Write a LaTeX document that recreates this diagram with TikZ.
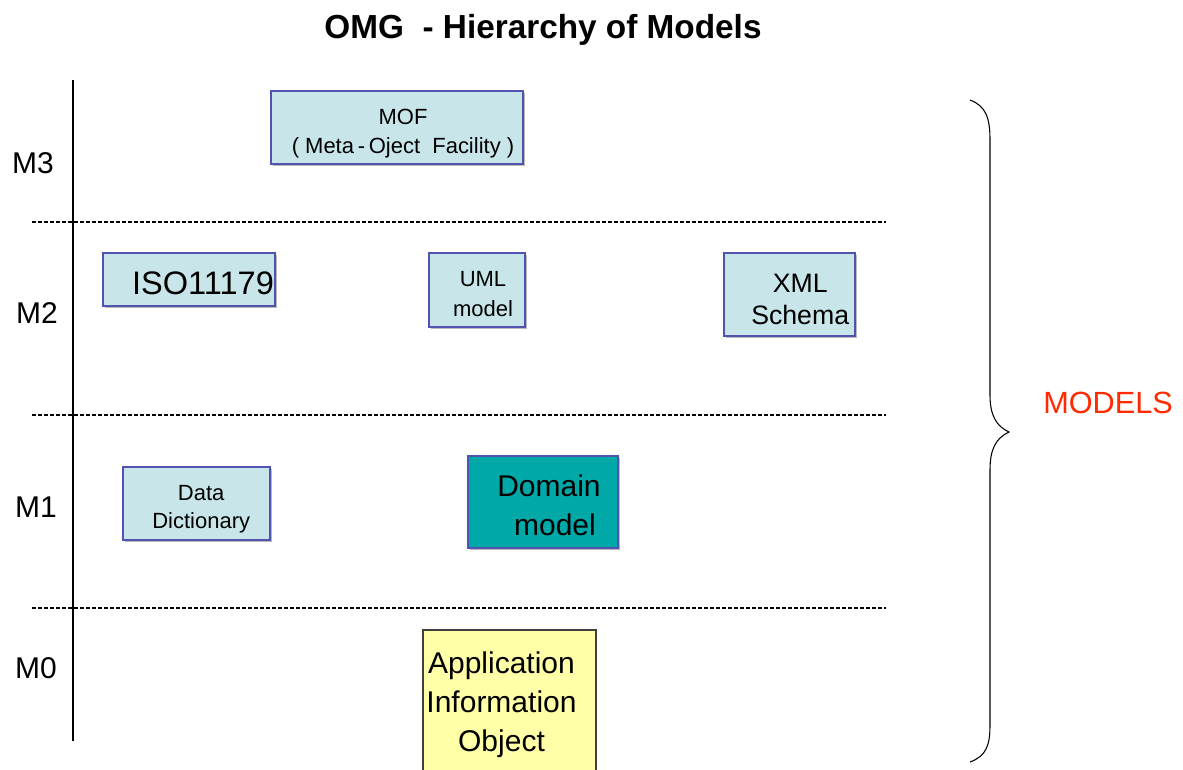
\documentclass[tikz,border=0pt]{standalone}
\usepackage{fontspec}
\setmainfont{Liberation Sans}
\usetikzlibrary{shadows}

\definecolor{boxblue}{HTML}{C8E6E9}
\definecolor{boxedge}{HTML}{5252B0}
\definecolor{domainteal}{HTML}{00A8A8}
\definecolor{appyellow}{HTML}{FFFFA8}
\definecolor{modelsred}{HTML}{FF2A00}

\tikzset{
  modelbox/.style={draw=boxedge, fill=boxblue, line width=1.2pt, inner sep=0pt,
    drop shadow={shadow xshift=1.5pt, shadow yshift=-1.5pt, fill=gray!55, opacity=1}},
  boxtext/.style={inner sep=0pt, align=center},
  levelline/.style={line width=1.8pt, dash pattern=on 3pt off 1.5pt},
  levellabel/.style={font=\fontsize{22.5pt}{26pt}\selectfont}
}

\begin{document}
\begin{tikzpicture}[x=0.75pt, y=-0.75pt]
 \def\linestart{32}
 \def\lineend{886}

    % page
    \clip (0,0) rectangle (1183,769);
    \fill[white] (0,0) rectangle (1183,769);

    % Title
    \node (title) at (543,30) {\fontsize{25pt}{30pt}\selectfont\bfseries OMG\ \ - Hierarchy of Models};

    % Levels
    \draw[line width=0.8pt] (73,80) coordinate (axtop) -- (73,741) coordinate (axbot);
    \foreach \y/\n in {222/a, 415/b, 608/c}
      \draw[levelline] (\linestart,\y) coordinate (sep\n) -- (\lineend,\y);
    \node[levellabel] (m3) at (33,163) {M3};
    \node[levellabel] (m2) at (37,313) {M2};
    \node[levellabel] (m1) at (36,507) {M1};
    \node[levellabel] (m0) at (36,668) {M0};

    % M3
    \node[modelbox, minimum width=252*0.75pt, minimum height=73*0.75pt] (mof) at (397,127.5) {};
    \node[boxtext, font=\fontsize{16.5pt}{21.5pt}\selectfont] (moftext)
      at ([shift={(6,6)}]mof.center) {MOF\\( Meta\,-\,Oject\ \ Facility )};

    % M2
    \node[modelbox, minimum width=172*0.75pt, minimum height=53*0.75pt] (iso) at (189,279.5) {};
    \node[boxtext, font=\fontsize{24.4pt}{26pt}\selectfont] (isotext)
      at ([shift={(14,3.5)}]iso.center) {ISO11179};
    \node[modelbox, minimum width=96*0.75pt, minimum height=74*0.75pt] (uml) at (477,290) {};
    \node[boxtext, font=\fontsize{16.5pt}{22.5pt}\selectfont] (umltext)
      at ([shift={(6,4)}]uml.center) {UML\\model};
    \node[modelbox, minimum width=131*0.75pt, minimum height=83*0.75pt] (xml) at (789.5,294.5) {};
    \node[boxtext, font=\fontsize{20pt}{24pt}\selectfont] (xmltext)
      at ([shift={(10.7,5)}]xml.center) {XML\\Schema};

    % M1
    \node[modelbox, minimum width=147*0.75pt, minimum height=73*0.75pt] (dict) at (196.5,503.5) {};
    \node[boxtext, font=\fontsize{16.5pt}{21pt}\selectfont] (dicttext)
      at ([shift={(4.7,6)}]dict.center) {Data\\Dictionary};
    \node[modelbox, fill=domainteal, minimum width=150*0.75pt, minimum height=92*0.75pt] (domain) at (543,502) {};
    \node[boxtext, font=\fontsize{22.5pt}{29pt}\selectfont] (domaintext)
      at ([shift={(0,3)}]domain.center) {\hspace*{9pt}Domain\\\hspace*{18pt}model};

    % M0
    \node[draw=black!75, fill=appyellow, line width=1pt, inner sep=0pt,
      minimum width=173*0.75pt, minimum height=160*0.75pt] (app) at (509.5,710) {};
    \node[boxtext, font=\fontsize{22.5pt}{29.25pt}\selectfont] (apptext)
      at ([shift={(-8,-5)}]app.center) {Application\\Information\\Object};

    % Brace
    \draw[line width=0.8pt] (970,100) coordinate (bracetop)
      .. controls (986,106) and (990,118) .. (990,140)
      -- (990,395)
      .. controls (990,415) and (996,426) .. (1009,432) coordinate (bracetip)
      .. controls (996,438) and (990,449) .. (990,470)
      -- (990,725)
      .. controls (990,746) and (986,756) .. (970,762) coordinate (bracebot);
    \node[text=modelsred, font=\fontsize{23pt}{26pt}\selectfont] (models) at (1108,403) {MODELS};
\end{tikzpicture}
\end{document}
